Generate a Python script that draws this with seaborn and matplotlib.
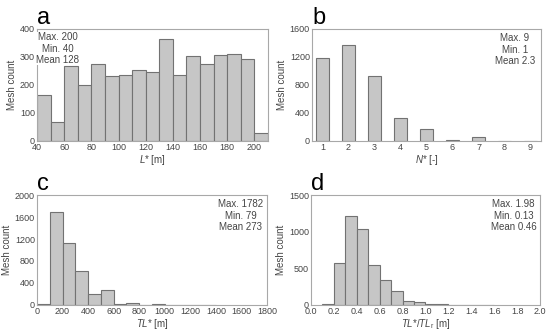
import numpy as np
import matplotlib
matplotlib.use("Agg")
import matplotlib.pyplot as plt
import seaborn as sns

# (a) L* 히스토그램, bin 10 m
L_EDGES = [40, 50, 60, 70, 80, 90, 100, 110, 120, 130, 140, 150, 160, 170, 180, 190, 200, 210]
L_COUNTS = [165, 68, 267, 200, 275, 232, 236, 253, 246, 363, 237, 302, 276, 306, 310, 292, 28]

# (b) N*
N_VALUES = [1, 2, 3, 4, 5, 6, 7, 8, 9]
N_COUNTS = [1190, 1370, 930, 330, 165, 10, 50, 3, 3]

# (c) TL*, bin 100 m
TL_EDGES = [0, 100, 200, 300, 400, 500, 600, 700, 800, 900, 1000, 1100, 1200, 1300, 1400]
TL_COUNTS = [10, 1690, 1125, 615, 200, 275, 15, 40, 5, 10, 2, 5, 2, 5]

# (d) TL*/TL_r, bin 0.1
R_EDGES = [0.1, 0.2, 0.3, 0.4, 0.5, 0.6, 0.7, 0.8, 0.9, 1.0, 1.1, 1.2, 1.3, 1.4, 1.5, 1.6]
R_COUNTS = [10, 570, 1210, 1040, 540, 345, 190, 55, 45, 10, 12, 3, 5, 3, 3]

STATS = {
    "a": "Max. 200\nMin. 40\nMean 128",
    "b": "Max. 9\nMin. 1\nMean 2.3",
    "c": "Max. 1782\nMin. 79\nMean 273",
    "d": "Max. 1.98\nMin. 0.13\nMean 0.46",
}

FILL = "#c6c6c6"
EDGE = "#727272"
SPINE = "#a8a8a8"
TXT = "#454545"

sns.set_style("white")
plt.rcParams["font.family"] = ["Liberation Sans", "DejaVu Sans"]
plt.rcParams["mathtext.fontset"] = "custom"
plt.rcParams["mathtext.rm"] = "Liberation Sans"
plt.rcParams["mathtext.it"] = "Liberation Sans:italic"

fig = plt.figure(figsize=(5.5, 3.34), dpi=100)
W, H = 550, 334
def box(l, t, r, b):
    return [l / W, 1 - b / H, (r - l) / W, (b - t) / H]

ax_a = fig.add_axes(box(37, 29, 268, 141))
ax_b = fig.add_axes(box(312, 29, 541, 141))
ax_c = fig.add_axes(box(37, 195, 267, 305))
ax_d = fig.add_axes(box(311, 195, 540, 305))

kw = dict(color=FILL, edgecolor=EDGE, linewidth=0.8, alpha=1)
sns.histplot(x=L_EDGES[:-1], weights=L_COUNTS, bins=L_EDGES, ax=ax_a, **kw)
sns.histplot(x=N_VALUES, weights=N_COUNTS, discrete=True, shrink=0.5, ax=ax_b, **kw)
sns.histplot(x=TL_EDGES[:-1], weights=TL_COUNTS, bins=TL_EDGES, ax=ax_c, **kw)
sns.histplot(x=R_EDGES[:-1], weights=R_COUNTS, bins=R_EDGES, ax=ax_d, **kw)

ax_a.set(xlim=(40, 210), ylim=(0, 400), xticks=range(40, 201, 20), yticks=range(0, 401, 100))
ax_b.set(xlim=(0.6, 9.4), ylim=(0, 1600), xticks=N_VALUES, yticks=range(0, 1601, 400))
ax_c.set(xlim=(0, 1800), ylim=(0, 2000), xticks=range(0, 1801, 200), yticks=range(0, 2001, 400))
ax_d.set(xlim=(0, 2.0), ylim=(0, 1500), xticks=np.arange(0, 2.01, 0.2), yticks=range(0, 1501, 500))
ax_d.set_xticklabels([f"{v:.1f}" for v in np.arange(0, 2.01, 0.2)])

xlabels = {
    ax_a: r"$L$* [m]",
    ax_b: r"$N$* [-]",
    ax_c: r"$TL$* [m]",
    ax_d: r"$TL$*/$TL_{\rm r}$ [m]",
}
letters = {ax_a: "a", ax_b: "b", ax_c: "c", ax_d: "d"}

for ax, lab in xlabels.items():
    ax.set_xlabel(lab, fontsize=7, color=TXT, labelpad=1)
    ax.set_ylabel("Mesh count", fontsize=7, color=TXT, labelpad=2)
    ax.tick_params(direction="in", length=2, width=0.5, labelsize=6.5,
                   labelcolor=TXT, pad=1.5, color=SPINE)
    for s in ax.spines.values():
        s.set_color(SPINE)
        s.set_linewidth(0.8)
    ax.text(0.0, 1.0, letters[ax], transform=ax.transAxes, fontsize=17,
            color="black", ha="left", va="bottom")

ax_a.text(0.09, 0.97, STATS["a"], transform=ax_a.transAxes, fontsize=7,
          color=TXT, ha="center", va="top", linespacing=1.15,
          bbox=dict(facecolor="white", edgecolor="none", pad=0.5))
for ax in (ax_b, ax_c, ax_d):
    ax.text(0.885, 0.96, STATS[letters[ax]], transform=ax.transAxes, fontsize=7,
            color=TXT, ha="center", va="top", linespacing=1.15)

plt.savefig("out.png", dpi=100)
